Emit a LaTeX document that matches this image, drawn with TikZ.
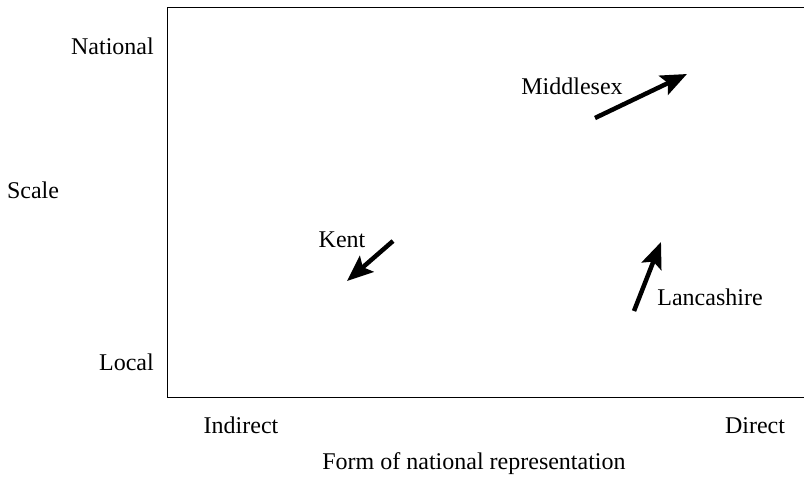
\documentclass[tikz,border=0pt]{standalone}
\usepackage{fontspec}
\setmainfont{Liberation Serif}
\usetikzlibrary{arrows.meta}
\begin{document}
\begin{tikzpicture}[x=1pt,y=-1pt,
  lbl/.style={font=\fontsize{24}{28}\selectfont, inner sep=0pt},
  move/.style={line width=4.5pt, -{Stealth[length=26pt,width=21pt,inset=5pt]}}]
\useasboundingbox (0,0) rectangle (804,477);
% open frame of the chart
\draw[line width=1.6pt] (804,7.5) -- (167.5,7.5) -- (167.5,397.5) -- (804,397.5);
% axis labels
\node[lbl, anchor=east] (nat) at (154,46) {National};
\node[lbl, anchor=east] (loc) at (154,362) {Local};
\node[lbl] (scale) at (33,190) {Scale};
\node[lbl] (ind) at (241,425) {Indirect};
\node[lbl] (dir) at (755,426) {Direct};
\node[lbl] (form) at (474,464) {Form of national representation};
% counties
\node[lbl] (mid) at (572,86) {Middlesex};
\node[lbl] (kent) at (342,240) {Kent};
\node[lbl] (lan) at (710,297) {Lancashire};
\coordinate (mA) at (595,118); \coordinate (mB) at (687,74);
\coordinate (kA) at (393,241); \coordinate (kB) at (347,281);
\coordinate (lA) at (634,311); \coordinate (lB) at (661,242);
\draw[move] (mA) -- (mB);
\draw[move] (kA) -- (kB);
\draw[move] (lA) -- (lB);
\end{tikzpicture}
\end{document}
